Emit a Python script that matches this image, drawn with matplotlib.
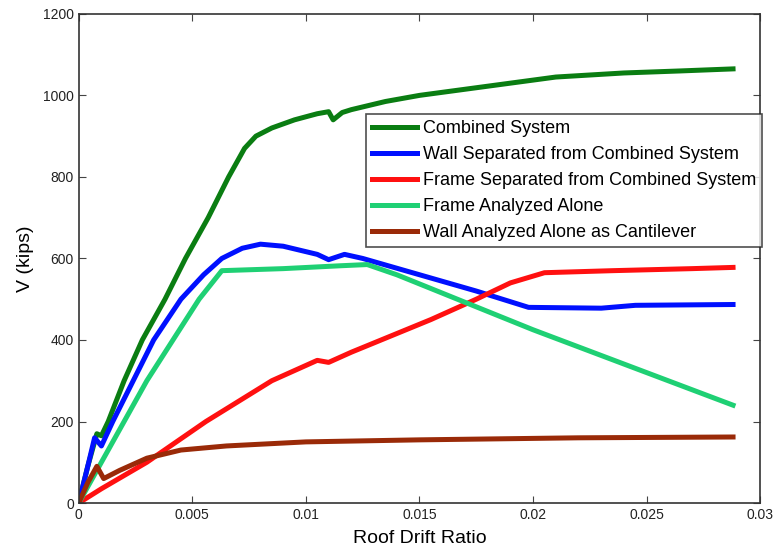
import numpy as np
import matplotlib
matplotlib.use("Agg")
from matplotlib import pyplot as plt

plt.rcParams["font.family"] = ["Liberation Sans", "DejaVu Sans"]

# roof drift ratio / base shear (kips) for each system
combined_x = [0, 0.0004, 0.0008, 0.001, 0.0013, 0.002, 0.0028, 0.0038, 0.0047, 0.0057, 0.0066,
              0.0073, 0.0078, 0.0085, 0.0095, 0.0105, 0.011, 0.0112, 0.0116, 0.012, 0.0135,
              0.015, 0.017, 0.019, 0.021, 0.024, 0.0265, 0.0288]
combined_v = [0, 90, 170, 165, 200, 300, 400, 500, 600, 700, 800, 870, 900, 920, 940, 955, 960,
              940, 958, 965, 985, 1000, 1015, 1030, 1045, 1055, 1060, 1065]

wall_sep_x = [0, 0.0004, 0.0007, 0.001, 0.0015, 0.0024, 0.0033, 0.0045, 0.0055, 0.0063,
              0.0072, 0.008, 0.009, 0.0105, 0.011, 0.0117, 0.0125, 0.015, 0.0175, 0.0198,
              0.023, 0.0245, 0.0288]
wall_sep_v = [0, 90, 160, 140, 200, 300, 400, 500, 560, 600, 625, 635, 630, 610, 597, 610, 600,
              560, 520, 480, 478, 485, 487]

frame_sep_x = [0, 0.001, 0.003, 0.0056, 0.0085, 0.0105, 0.011, 0.012, 0.0155, 0.0175, 0.019,
               0.0205, 0.0235, 0.027, 0.0288]
frame_sep_v = [0, 35, 100, 200, 300, 350, 345, 370, 450, 500, 540, 565, 570, 575, 578]

frame_alone_x = [0, 0.001, 0.003, 0.0053, 0.0063, 0.009, 0.0115, 0.0127, 0.014, 0.02, 0.0288]
frame_alone_v = [0, 100, 300, 500, 570, 575, 582, 585, 560, 425, 240]

wall_alone_x = [0, 0.0004, 0.0008, 0.0011, 0.0018, 0.003, 0.0045, 0.0065, 0.01, 0.015, 0.022,
                0.0288]
wall_alone_v = [0, 50, 90, 60, 80, 110, 130, 140, 150, 155, 160, 162]

fig = plt.figure(figsize=(7.79, 5.54), dpi=100)
ax = fig.add_axes([0.101, 0.092, 0.875, 0.883])

lw = 3.6
ax.plot(combined_x, combined_v, color="#0a7d12", lw=lw, label="Combined System")
ax.plot(wall_sep_x, wall_sep_v, color="#0010ff", lw=lw, label="Wall Separated from Combined System")
ax.plot(frame_sep_x, frame_sep_v, color="#ff1010", lw=lw, label="Frame Separated from Combined System")
ax.plot(frame_alone_x, frame_alone_v, color="#1fd074", lw=lw, label="Frame Analyzed Alone")
ax.plot(wall_alone_x, wall_alone_v, color="#9a2a08", lw=lw, label="Wall Analyzed Alone as Cantilever")

ax.set_xlim(0, 0.03)
ax.set_ylim(0, 1200)
ax.set_xticks([0, 0.005, 0.01, 0.015, 0.02, 0.025, 0.03])
ax.set_xticklabels(["0", "0.005", "0.01", "0.015", "0.02", "0.025", "0.03"])
ax.set_yticks(np.arange(0, 1201, 200))
ax.tick_params(direction="in", top=True, right=True, labelsize=10, length=5,
               color="#444444", labelcolor="#222222")
for s in ax.spines.values():
    s.set_color("#333333")
    s.set_linewidth(1.2)
ax.set_xlabel("Roof Drift Ratio", fontsize=14, labelpad=6)
ax.set_ylabel("V (kips)", fontsize=14, labelpad=6)

leg = ax.legend(loc="upper right", bbox_to_anchor=(1.003, 0.796), fontsize=13, frameon=True,
                fancybox=False, handlelength=2.5, handletextpad=0.3, borderpad=0.35,
                labelspacing=0.5, borderaxespad=0)
leg.get_frame().set_edgecolor("#222222")
leg.get_frame().set_linewidth(1.2)

fig.savefig("out.png", dpi=100)
